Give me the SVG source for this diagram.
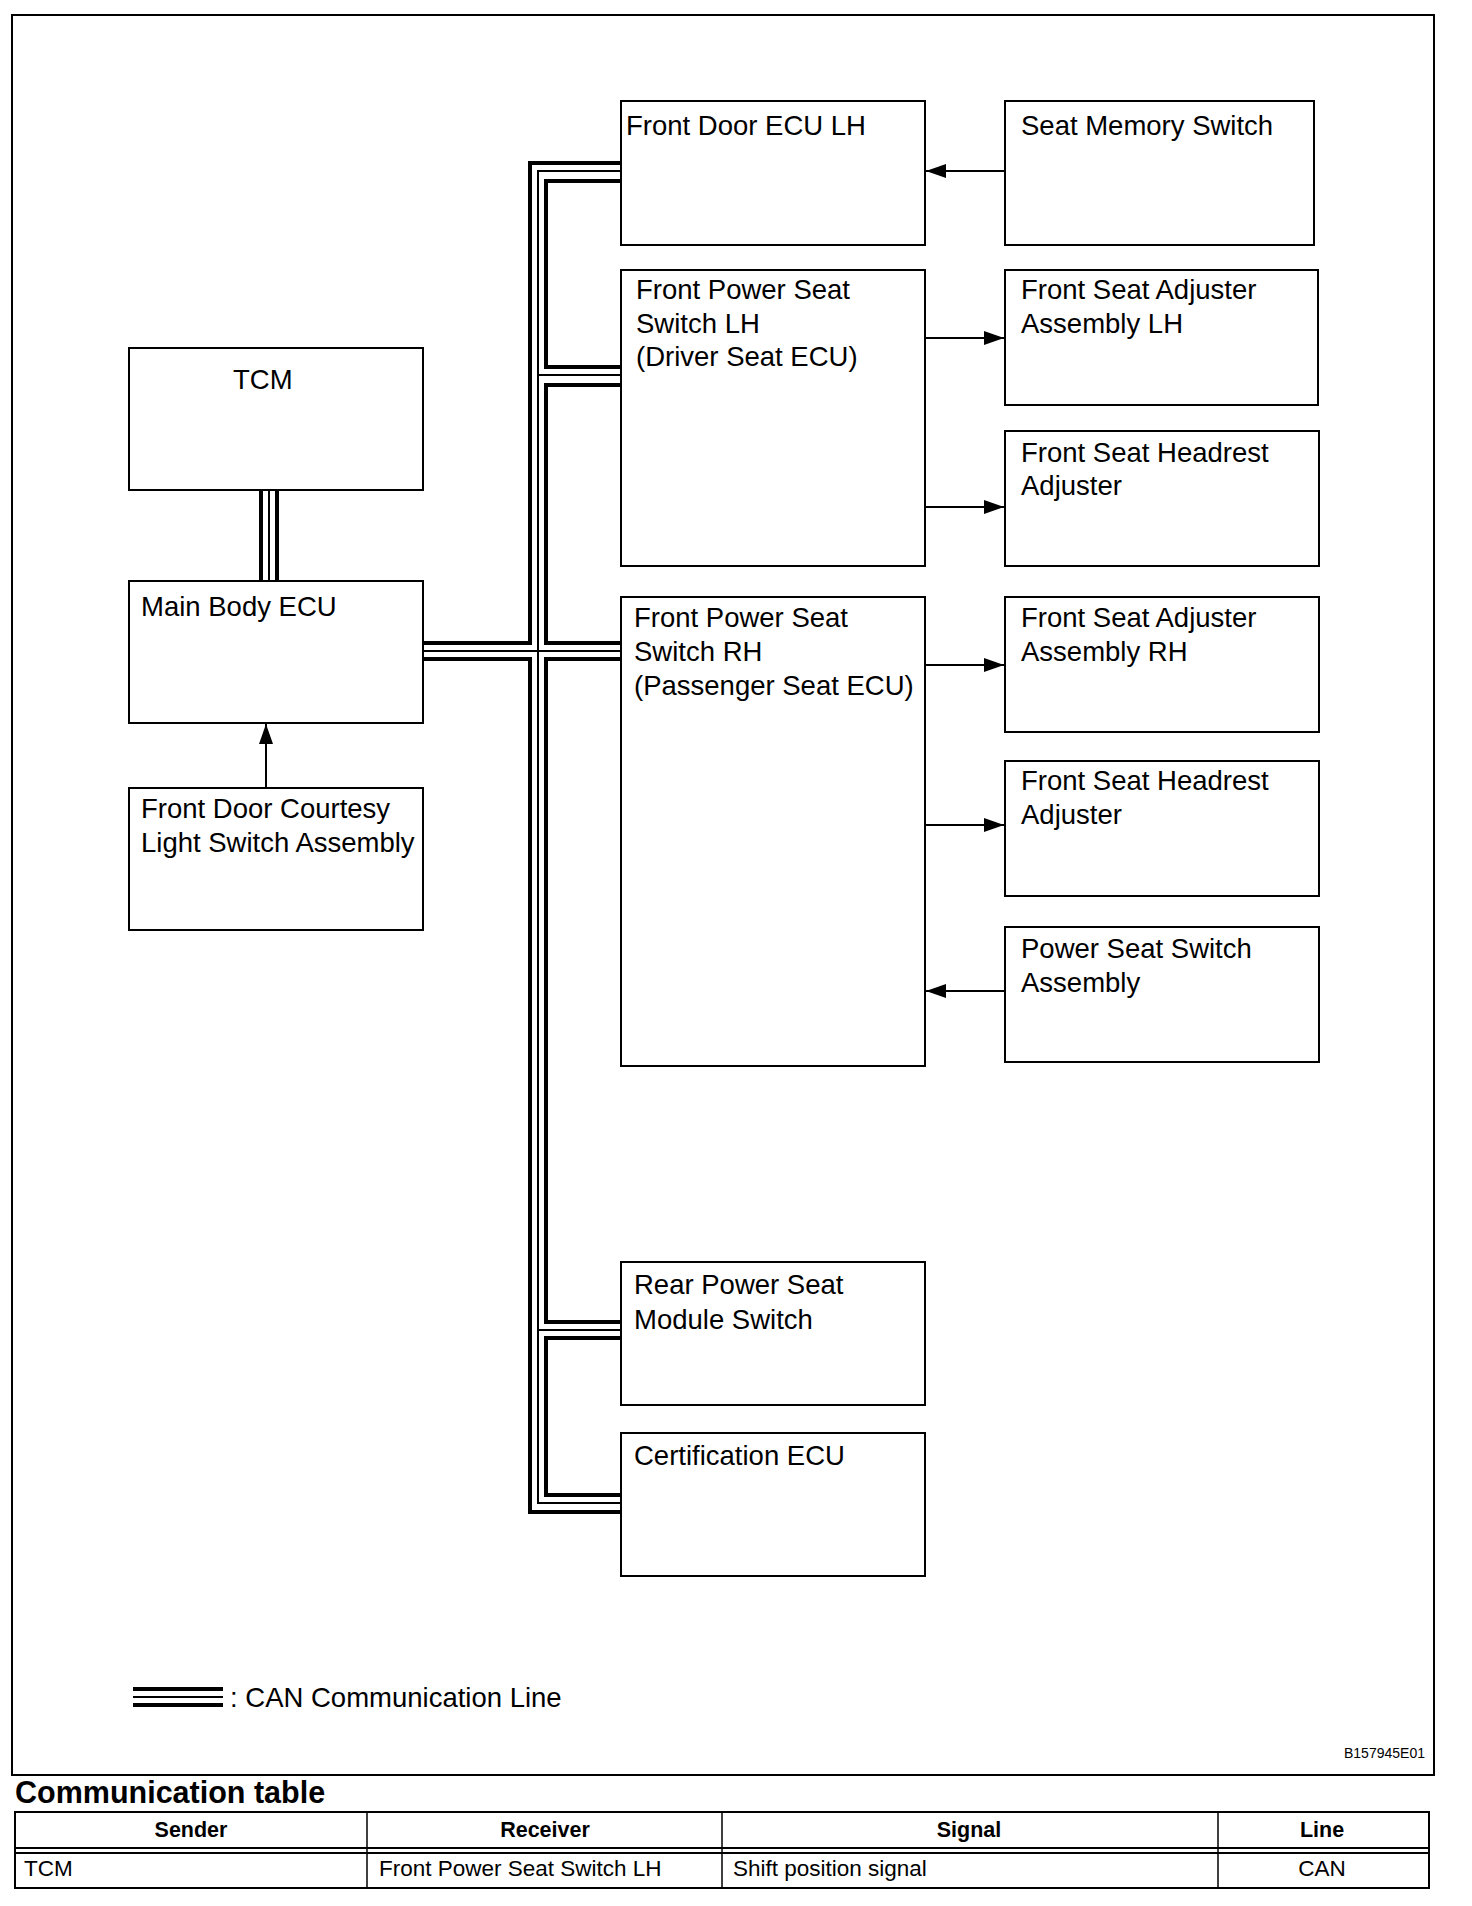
<svg xmlns="http://www.w3.org/2000/svg" width="1472" height="1906" viewBox="0 0 1472 1906">
<defs>
<marker id="ah" markerWidth="20" markerHeight="14" refX="20" refY="7" orient="auto" markerUnits="userSpaceOnUse">
<path d="M0,0 L20,7 L0,14 Z" fill="#000"/>
</marker>
<style>
.box{fill:#fff;stroke:#000;stroke-width:2}
.t{font-family:"Liberation Sans",Arial,sans-serif;font-size:27.5px;fill:#000}
.thick{fill:none;stroke:#000;stroke-width:4;stroke-linejoin:miter;stroke-linecap:butt}
.thin{fill:none;stroke:#000;stroke-width:2;stroke-linejoin:miter;stroke-linecap:butt}
.arr{fill:none;stroke:#000;stroke-width:2;marker-end:url(#ah)}
.th{font-family:"Liberation Sans",Arial,sans-serif;font-size:21.5px;font-weight:bold;fill:#000;text-anchor:middle}
.td{font-family:"Liberation Sans",Arial,sans-serif;font-size:22.5px;fill:#000}
</style>
</defs>
<rect width="1472" height="1906" fill="#fff"/>
<rect x="12" y="15" width="1422" height="1760" fill="none" stroke="#000" stroke-width="2"/>

<g id="connectors">
<!-- CAN bus: outer thick -->
<path class="thick" d="M620,163 H530 V643 H423"/>
<path class="thick" d="M423,659 H530 V1512 H620"/>
<!-- thin middle -->
<path class="thin" d="M620,171 H538 V1503 H620"/>
<path class="thin" d="M538,375 H620"/>
<path class="thin" d="M423,651 H620"/>
<path class="thin" d="M538,1330 H620"/>
<!-- inner thick -->
<path class="thick" d="M620,181 H546 V367 H620"/>
<path class="thick" d="M620,385 H546 V643 H620"/>
<path class="thick" d="M620,659 H546 V1322 H620"/>
<path class="thick" d="M620,1338 H546 V1495 H620"/>
<!-- TCM - Main Body -->
<path class="thick" d="M261,491 V580"/>
<path class="thin" d="M269,491 V580"/>
<path class="thick" d="M277,491 V580"/>
<!-- arrows -->
<path class="arr" d="M1005,171 H926"/>
<path class="arr" d="M925,338 H1004"/>
<path class="arr" d="M925,507 H1004"/>
<path class="arr" d="M925,665 H1004"/>
<path class="arr" d="M925,825 H1004"/>
<path class="arr" d="M1005,991 H926"/>
<path class="arr" d="M266,788 V724"/>
</g>

<g id="front-door-ecu-lh"><rect class="box" x="621" y="101" width="304" height="144"/><text class="t" x="626" y="135">Front Door ECU LH</text></g>
<g id="seat-memory-switch"><rect class="box" x="1005" y="101" width="309" height="144"/><text class="t" x="1021" y="135">Seat Memory Switch</text></g>
<g id="front-power-seat-switch-lh"><rect class="box" x="621" y="270" width="304" height="296"/><text class="t" x="636" y="299">Front Power Seat</text><text class="t" x="636" y="333">Switch LH</text><text class="t" x="636" y="366">(Driver Seat ECU)</text></g>
<g id="front-seat-adjuster-lh"><rect class="box" x="1005" y="270" width="313" height="135"/><text class="t" x="1021" y="299">Front Seat Adjuster</text><text class="t" x="1021" y="333">Assembly LH</text></g>
<g id="front-seat-headrest-1"><rect class="box" x="1005" y="431" width="314" height="135"/><text class="t" x="1021" y="462">Front Seat Headrest</text><text class="t" x="1021" y="495">Adjuster</text></g>
<g id="tcm"><rect class="box" x="129" y="348" width="294" height="142"/><text class="t" x="233" y="389">TCM</text></g>
<g id="main-body-ecu"><rect class="box" x="129" y="581" width="294" height="142"/><text class="t" x="141" y="616">Main Body ECU</text></g>
<g id="front-power-seat-switch-rh"><rect class="box" x="621" y="597" width="304" height="469"/><text class="t" x="634" y="627">Front Power Seat</text><text class="t" x="634" y="661">Switch RH</text><text class="t" x="634" y="695">(Passenger Seat ECU)</text></g>
<g id="front-seat-adjuster-rh"><rect class="box" x="1005" y="597" width="314" height="135"/><text class="t" x="1021" y="627">Front Seat Adjuster</text><text class="t" x="1021" y="661">Assembly RH</text></g>
<g id="front-seat-headrest-2"><rect class="box" x="1005" y="761" width="314" height="135"/><text class="t" x="1021" y="790">Front Seat Headrest</text><text class="t" x="1021" y="824">Adjuster</text></g>
<g id="courtesy-switch"><rect class="box" x="129" y="788" width="294" height="142"/><text class="t" x="141" y="818">Front Door Courtesy</text><text class="t" x="141" y="852">Light Switch Assembly</text></g>
<g id="power-seat-switch-assembly"><rect class="box" x="1005" y="927" width="314" height="135"/><text class="t" x="1021" y="958">Power Seat Switch</text><text class="t" x="1021" y="992">Assembly</text></g>
<g id="rear-power-seat"><rect class="box" x="621" y="1262" width="304" height="143"/><text class="t" x="634" y="1294">Rear Power Seat</text><text class="t" x="634" y="1329">Module Switch</text></g>
<g id="certification-ecu"><rect class="box" x="621" y="1433" width="304" height="143"/><text class="t" x="634" y="1465">Certification ECU</text></g>

<g id="legend">
<path class="thick" d="M133,1689 H223"/>
<path class="thin" d="M133,1697 H223"/>
<path class="thick" d="M133,1705 H223"/>
<text class="t" x="230" y="1707">: CAN Communication Line</text>
</g>
<text x="1344" y="1758" font-family="'Liberation Sans',Arial,sans-serif" font-size="14" fill="#000">B157945E01</text>

<g id="comm-table">
<text x="15" y="1803" font-family="'Liberation Sans',Arial,sans-serif" font-size="30.5" font-weight="bold" fill="#000">Communication table</text>
<rect x="15" y="1812" width="1414" height="76" fill="none" stroke="#000" stroke-width="2"/>
<line x1="15" y1="1848" x2="1429" y2="1848" stroke="#000" stroke-width="2"/>
<line x1="15" y1="1853" x2="1429" y2="1853" stroke="#000" stroke-width="2"/>
<line x1="367" y1="1812" x2="367" y2="1888" stroke="#000" stroke-width="1.5"/>
<line x1="722" y1="1812" x2="722" y2="1888" stroke="#000" stroke-width="1.5"/>
<line x1="1218" y1="1812" x2="1218" y2="1888" stroke="#000" stroke-width="1.5"/>
<text class="th" x="191" y="1837">Sender</text>
<text class="th" x="545" y="1837">Receiver</text>
<text class="th" x="969" y="1837">Signal</text>
<text class="th" x="1322" y="1837">Line</text>
<text class="td" x="24" y="1876">TCM</text>
<text class="td" x="379" y="1876">Front Power Seat Switch LH</text>
<text class="td" x="733" y="1876">Shift position signal</text>
<text class="td" x="1322" y="1876" text-anchor="middle">CAN</text>
</g>
</svg>
